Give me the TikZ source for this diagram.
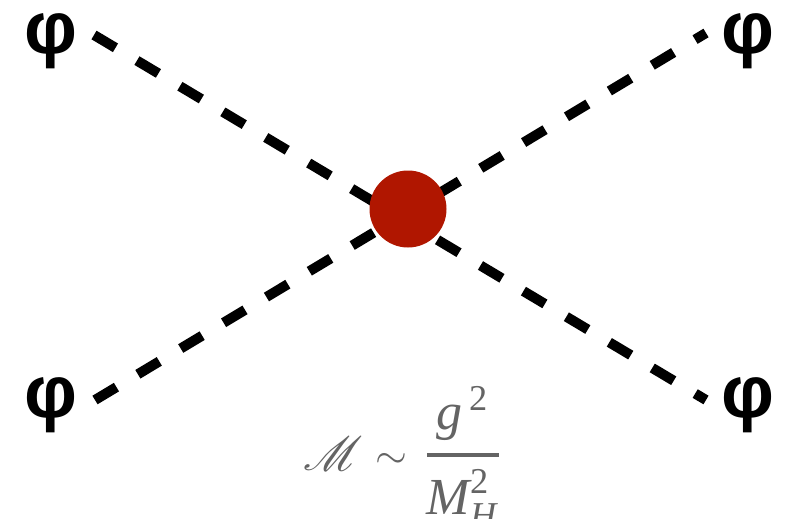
\documentclass[tikz,border=0pt]{standalone}
\usepackage{amsmath}
\usepackage{mathrsfs}
\usepackage{graphicx}
\usepackage{fontspec}
\setmainfont{Liberation Serif}
\newfontfamily\phifont{Liberation Sans}
\definecolor{vertexred}{RGB}{176,22,0}
\definecolor{formulagray}{RGB}{100,100,100}
\tikzset{
  phi/.style={inner sep=0pt, font=\phifont\fontsize{74}{76}\selectfont\bfseries},
  scalarline/.style={line width=10pt, dash pattern=on 25pt off 25pt, line cap=butt, black},
  vertex/.style={circle, fill=vertexred, inner sep=0pt, minimum size=77pt},
  formula/.style={text=formulagray, inner sep=0pt, anchor=base},
}
\begin{document}
\begin{tikzpicture}[x=1pt,y=-1pt]
\useasboundingbox (0,0) rectangle (785,519);
\node[phi] (p1) at (51,41) {φ};
\node[phi] (p2) at (747.5,41) {φ};
\node[phi] (p3) at (50.5,405) {φ};
\node[phi] (p4) at (747.5,405) {φ};
\coordinate (a1) at (94,35);
\coordinate (a2) at (706,400);
\coordinate (b1) at (95,400);
\coordinate (b2) at (706,33);
\draw[scalarline] (a1) -- (a2);
\draw[scalarline] (b1) -- (b2);
\node[vertex] (v) at (408,209) {};
\node[formula] (sm) at (333,470) {\scalebox{4.8}{$\boldsymbol{\mathscr{M}}$}};
\node[formula] (tl) at (391,468.5) {\scalebox{4.1}{$\sim$}};
\node[formula] (fr) at (463,468) {\scalebox{5.2}{$\genfrac{}{}{0.8pt}{0}{\textit{g}^{\,\text{2}}}{\textit{M}_{\textit{H}}^{\text{2}}}$}};
\end{tikzpicture}
\end{document}
